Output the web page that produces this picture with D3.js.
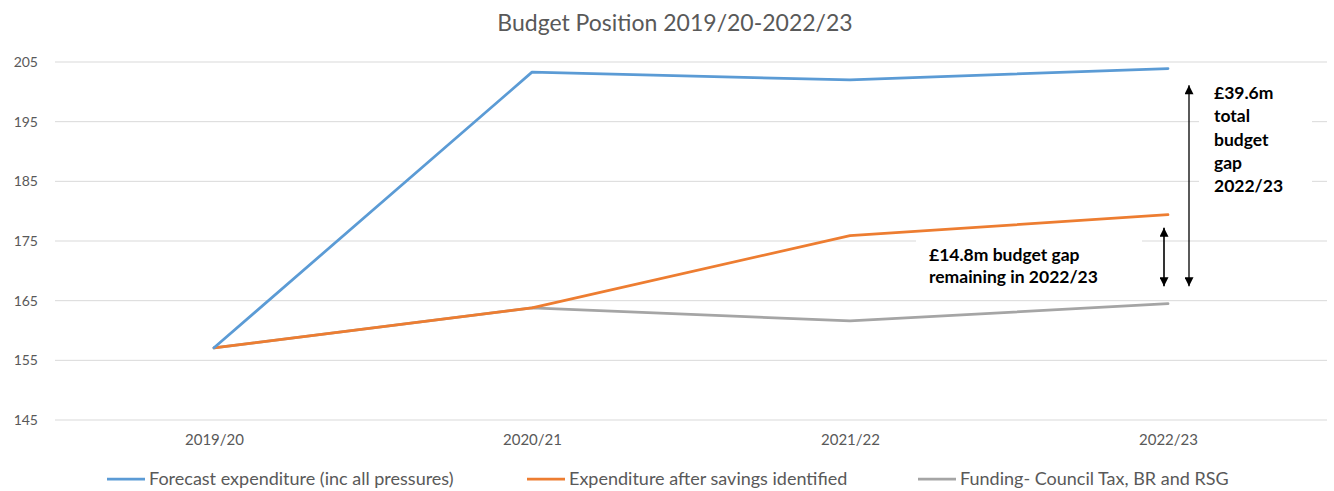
<!DOCTYPE html>
<html>
<head>
<meta charset="utf-8">
<script src="https://cdn.jsdelivr.net/npm/d3@7"></script>
<style>
  body { margin: 0; background: #fff; }
  text { font-family: Lato, "Open Sans", sans-serif; }
</style>
</head>
<body>
<div id="chart"></div>
<script>
var years = ["2019/20", "2020/21", "2021/22", "2022/23"];
var forecast = [157.1, 203.3, 202.0, 203.9];
var afterSavings = [157.1, 163.8, 175.9, 179.4];
var funding = [157.1, 163.8, 161.6, 164.5];
var yTicks = [145, 155, 165, 175, 185, 195, 205];
var seriesNames = ["Forecast expenditure (inc all pressures)", "Expenditure after savings identified", "Funding- Council Tax, BR and RSG"];
var seriesColors = ["#5B9BD5", "#ED7D31", "#A5A5A5"];

var svgWidth = 1334;
var svgHeight = 491;
var margin = { top: 62, right: 7, bottom: 71, left: 55 };
var width = svgWidth - margin.left - margin.right;
var height = svgHeight - margin.top - margin.bottom;

var svg = d3.select("#chart")
    .append("svg")
    .attr("width", svgWidth)
    .attr("height", svgHeight);

// title
svg.append("text")
    .attr("x", 675)
    .attr("y", 31)
    .attr("text-anchor", "middle")
    .attr("fill", "#595959")
    .style("font-size", "23px")
    .text("Budget Position 2019/20-2022/23");

var chartGroup = svg.append("g")
    .attr("transform", `translate(${margin.left}, ${margin.top})`);

var xScale = d3.scalePoint()
    .domain(years)
    .range([0, width])
    .padding(0.5);

var yScale = d3.scaleLinear()
    .domain([145, 205])
    .range([height, 0]);

// gridlines
chartGroup.append("g")
    .selectAll("line")
    .data(yTicks)
    .enter()
    .append("line")
    .attr("x1", 0)
    .attr("x2", width)
    .attr("y1", d => yScale(d))
    .attr("y2", d => yScale(d))
    .attr("stroke", "#d9d9d9")
    .attr("stroke-width", 1);

// y axis labels
var leftAxis = d3.axisLeft(yScale).tickValues(yTicks).tickSize(0).tickPadding(17);
var yAxisG = chartGroup.append("g").call(leftAxis);
yAxisG.select(".domain").remove();
yAxisG.selectAll("text")
    .attr("fill", "#595959")
    .style("font-size", "14px")
    .style("font-family", "Lato, sans-serif");

// x axis labels
var bottomAxis = d3.axisBottom(xScale).tickSize(0).tickPadding(14);
var xAxisG = chartGroup.append("g")
    .attr("transform", `translate(0, ${height})`)
    .call(bottomAxis);
xAxisG.select(".domain").remove();
xAxisG.selectAll("text")
    .attr("fill", "#595959")
    .style("font-size", "15px")
    .style("font-family", "Lato, sans-serif");

// lines
var line = d3.line()
    .x((d, i) => xScale(years[i]))
    .y(d => yScale(d));

var allSeries = [funding, afterSavings, forecast];
var allColors = [seriesColors[2], seriesColors[1], seriesColors[0]];
chartGroup.selectAll(".series")
    .data(allSeries)
    .enter()
    .append("path")
    .attr("class", "series")
    .attr("d", line)
    .attr("fill", "none")
    .attr("stroke", (d, i) => allColors[i])
    .attr("stroke-width", 2.75)
    .attr("stroke-linejoin", "round")
    .attr("stroke-linecap", "round");

// arrow marker
var defs = svg.append("defs");
defs.append("marker")
    .attr("id", "arrowhead")
    .attr("viewBox", "0 0 10 10")
    .attr("refX", 10)
    .attr("refY", 5)
    .attr("markerWidth", 10)
    .attr("markerHeight", 9)
    .attr("markerUnits", "userSpaceOnUse")
    .attr("orient", "auto-start-reverse")
    .append("path")
    .attr("d", "M0,0 L10,5 L0,10 z")
    .attr("fill", "#000");

var x2223 = xScale("2022/23");

// small box: £14.8m
chartGroup.append("rect")
    .attr("x", x2223 - 252)
    .attr("y", yScale(176.2))
    .attr("width", 226)
    .attr("height", 58)
    .attr("fill", "#fff");
var gapText = chartGroup.append("text")
    .attr("x", x2223 - 239)
    .attr("y", yScale(171.7))
    .style("font-size", "17.5px")
    .style("font-weight", "bold")
    .attr("fill", "#000");
gapText.append("tspan").text("£14.8m budget gap");
gapText.append("tspan").attr("x", x2223 - 239).attr("dy", 22).text("remaining in 2022/23");

// big box: £39.6m
chartGroup.append("rect")
    .attr("x", x2223 + 31)
    .attr("y", yScale(203.5))
    .attr("width", 113)
    .attr("height", 130)
    .attr("fill", "#fff");
var totalText = chartGroup.append("text")
    .attr("x", x2223 + 46)
    .attr("y", yScale(198.8))
    .style("font-size", "17.5px")
    .style("font-weight", "bold")
    .attr("fill", "#000");
["£39.6m", "total", "budget", "gap", "2022/23"].forEach(function(t, i) {
    totalText.append("tspan")
        .attr("x", x2223 + 46)
        .attr("dy", i === 0 ? 0 : 23.3)
        .text(t);
});

// arrows
chartGroup.append("line")
    .attr("x1", x2223 + 21)
    .attr("x2", x2223 + 21)
    .attr("y1", yScale(167.4))
    .attr("y2", yScale(201.1))
    .attr("stroke", "#000")
    .attr("stroke-width", 1.3)
    .attr("marker-start", "url(#arrowhead)")
    .attr("marker-end", "url(#arrowhead)");
chartGroup.append("line")
    .attr("x1", x2223 - 4)
    .attr("x2", x2223 - 4)
    .attr("y1", yScale(167.4))
    .attr("y2", yScale(177.2))
    .attr("stroke", "#000")
    .attr("stroke-width", 1.6)
    .attr("marker-start", "url(#arrowhead)")
    .attr("marker-end", "url(#arrowhead)");

// legend
var legendX = [107, 527, 918];
var legend = svg.append("g").attr("transform", "translate(0, 479)");
var items = legend.selectAll(".legend-item")
    .data(seriesNames)
    .enter()
    .append("g")
    .attr("class", "legend-item")
    .attr("transform", (d, i) => `translate(${legendX[i]}, 0)`);
items.append("line")
    .attr("x1", 0)
    .attr("x2", 38)
    .attr("stroke", (d, i) => seriesColors[i])
    .attr("stroke-width", 2.75);
items.append("text")
    .attr("x", 42)
    .attr("dy", "0.35em")
    .attr("fill", "#595959")
    .style("font-size", "18px")
    .text(d => d);
</script>
</body>
</html>
